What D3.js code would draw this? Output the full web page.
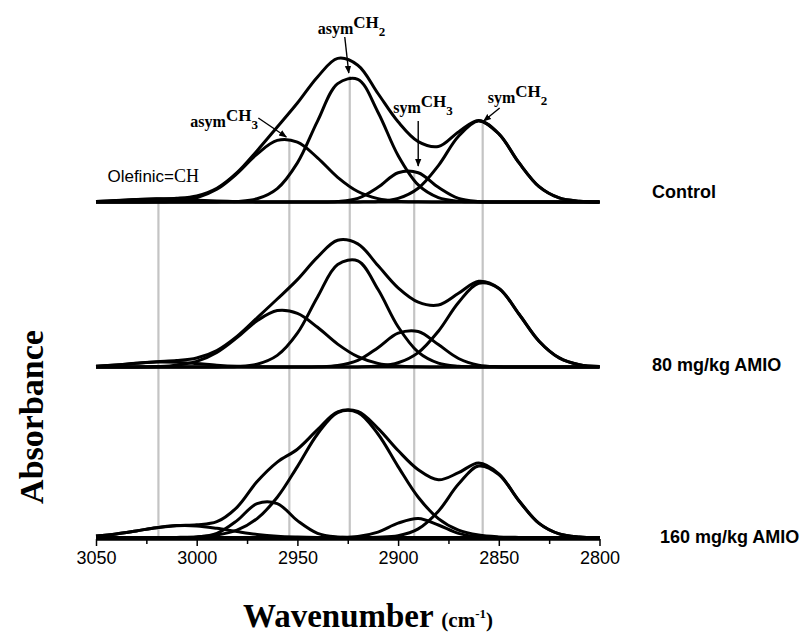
<!DOCTYPE html>
<html>
<head>
<meta charset="utf-8">
<title>CH stretching band fit</title>
<style>
  html, body { margin: 0; padding: 0; background: #fff; }
  svg { display: block; }
  .curve { fill: none; stroke: #000; stroke-width: 3; stroke-linejoin: round; }
  .band { stroke: #c4c4c4; stroke-width: 2.2; }
  .axis path, .axis line { stroke: #000; }
  .axis text { font-family: "Liberation Sans", Arial, sans-serif; font-size: 18px; fill: #000; }
  .group-label { font-family: "Liberation Sans", Arial, sans-serif; font-size: 18px; font-weight: bold; }
  .peak-label { font-family: "Liberation Serif", "Times New Roman", serif; font-weight: bold; }
  .title { font-family: "Liberation Serif", "Times New Roman", serif; font-weight: bold; }
</style>
</head>
<body>
<svg width="811" height="633"></svg>
<script src="https://cdnjs.cloudflare.com/ajax/libs/d3/7.8.5/d3.min.js"></script>
<script>
// wavenumber grid (cm-1) the curves were read at
const wavenumbers = [3050, 3040, 3030, 3020, 3010, 3000, 2990, 2980, 2970, 2960, 2950, 2940, 2930,
                     2920, 2910, 2900, 2890, 2880, 2870, 2860, 2850, 2840, 2830, 2820, 2810, 2800];

// Control
const controlTotal    = [0.006, 0.014, 0.024, 0.032, 0.038, 0.061, 0.137, 0.293, 0.513, 0.750, 0.990, 1.251, 1.436,
                         1.368, 1.085, 0.802, 0.604, 0.555, 0.701, 0.816, 0.682, 0.393, 0.154, 0.041, 0.008, 0.001];
const controlOlefinic = [0.006, 0.014, 0.024, 0.030, 0.027, 0.018, 0.009, 0.003, 0.001, 0, 0, 0, 0,
                         0, 0, 0, 0, 0, 0, 0, 0, 0, 0, 0, 0, 0];
const controlAsymCH3  = [0, 0, 0, 0.002, 0.011, 0.043, 0.127, 0.284, 0.480, 0.616, 0.599, 0.442, 0.247,
                         0.105, 0.034, 0.008, 0.002, 0, 0, 0, 0, 0, 0, 0, 0, 0];
const controlAsymCH2  = [0, 0, 0, 0, 0, 0, 0.001, 0.006, 0.032, 0.134, 0.391, 0.809, 1.184,
                         1.226, 0.898, 0.465, 0.171, 0.044, 0.008, 0.001, 0, 0, 0, 0, 0, 0];
const controlSymCH3   = [0, 0, 0, 0, 0, 0, 0, 0, 0, 0, 0, 0, 0.005,
                         0.036, 0.147, 0.293, 0.293, 0.147, 0.036, 0.005, 0, 0, 0, 0, 0, 0];
const controlSymCH2   = [0, 0, 0, 0, 0, 0, 0, 0, 0, 0, 0, 0, 0,
                         0.001, 0.006, 0.036, 0.138, 0.364, 0.657, 0.810, 0.682, 0.393, 0.154, 0.041, 0.008, 0.001];

// 80 mg/kg AMIO
const amio80Total    = [0.008, 0.021, 0.037, 0.053, 0.064, 0.090, 0.165, 0.306, 0.492, 0.680, 0.874, 1.099, 1.267,
                        1.231, 1.015, 0.792, 0.649, 0.620, 0.737, 0.857, 0.788, 0.530, 0.258, 0.091, 0.023, 0.004];
const amio80Olefinic = [0.008, 0.021, 0.037, 0.049, 0.047, 0.034, 0.018, 0.007, 0.002, 0, 0, 0, 0,
                        0, 0, 0, 0, 0, 0, 0, 0, 0, 0, 0, 0, 0];
const amio80AsymCH3  = [0, 0, 0, 0.004, 0.017, 0.056, 0.146, 0.294, 0.462, 0.564, 0.536, 0.397, 0.229,
                        0.103, 0.036, 0.010, 0.002, 0, 0, 0, 0, 0, 0, 0, 0, 0];
const amio80AsymCH2  = [0, 0, 0, 0, 0, 0, 0.001, 0.005, 0.028, 0.116, 0.338, 0.700, 1.024,
                        1.061, 0.777, 0.402, 0.148, 0.038, 0.007, 0.001, 0, 0, 0, 0, 0, 0];
const amio80SymCH3   = [0, 0, 0, 0, 0, 0, 0, 0, 0, 0, 0, 0.002, 0.014,
                        0.066, 0.193, 0.338, 0.355, 0.224, 0.085, 0.019, 0.003, 0, 0, 0, 0, 0];
const amio80SymCH2   = [0, 0, 0, 0, 0, 0, 0, 0, 0, 0, 0, 0, 0,
                        0.001, 0.009, 0.042, 0.144, 0.358, 0.645, 0.837, 0.785, 0.530, 0.258, 0.091, 0.023, 0.004];

// 160 mg/kg AMIO
const amio160Total    = [0.016, 0.036, 0.066, 0.098, 0.119, 0.127, 0.158, 0.302, 0.559, 0.754, 0.883, 1.078, 1.256,
                         1.260, 1.092, 0.870, 0.678, 0.577, 0.648, 0.745, 0.637, 0.368, 0.141, 0.036, 0.006, 0.001];
const amio160Olefinic = [0.016, 0.036, 0.066, 0.098, 0.118, 0.116, 0.092, 0.060, 0.031, 0.013, 0.005, 0.001, 0,
                         0, 0, 0, 0, 0, 0, 0, 0, 0, 0, 0, 0, 0];
const amio160AsymCH3  = [0, 0, 0, 0, 0, 0.005, 0.042, 0.169, 0.339, 0.339, 0.169, 0.042, 0.005,
                         0, 0, 0, 0, 0, 0, 0, 0, 0, 0, 0, 0, 0];
const amio160AsymCH2  = [0, 0, 0, 0, 0.001, 0.006, 0.024, 0.073, 0.189, 0.402, 0.709, 1.035, 1.250,
                         1.250, 1.035, 0.709, 0.402, 0.189, 0.073, 0.024, 0.006, 0.001, 0, 0, 0, 0];
const amio160SymCH3   = [0, 0, 0, 0, 0, 0, 0, 0, 0, 0, 0, 0, 0.001,
                         0.010, 0.054, 0.143, 0.190, 0.125, 0.041, 0.007, 0.001, 0, 0, 0, 0, 0];
const amio160SymCH2   = [0, 0, 0, 0, 0, 0, 0, 0, 0, 0, 0, 0, 0,
                         0, 0.003, 0.018, 0.086, 0.263, 0.534, 0.714, 0.630, 0.367, 0.141, 0.036, 0.006, 0.001];

const groupLabels = ["Control", "80 mg/kg AMIO", "160 mg/kg AMIO"];

// band assignments: position (cm-1) and the control peak height the guide line starts at
const bandNames     = ["Olefinic=CH", "asymCH3", "asymCH2", "symCH3", "symCH2"];
const bandPositions = [3019, 2954, 2924, 2892, 2858];
const bandTops      = [0.03, 0.63, 1.26, 0.31, 0.80];

const tickValues = [3050, 3000, 2950, 2900, 2850, 2800];
const minorTicks = [3025, 2975, 2925, 2875, 2825];

// ---- layout
const panelBase = [202, 367, 537.5];
const axisY = 539;
const labelPos = [[652, 198], [652, 371], [660, 543]];

const svg = d3.select("svg");

const x = d3.scaleLinear().domain([3050, 2800]).range([96, 599.5]);
const y = d3.scaleLinear().domain([0, 1.5]).range([0, -150]);

const line = d3.line()
    .x((d, i) => x(wavenumbers[i]))
    .y(d => y(d))
    .curve(d3.curveCatmullRom);

const panels = [
    [controlTotal, controlOlefinic, controlAsymCH3, controlAsymCH2, controlSymCH3, controlSymCH2],
    [amio80Total, amio80Olefinic, amio80AsymCH3, amio80AsymCH2, amio80SymCH3, amio80SymCH2],
    [amio160Total, amio160Olefinic, amio160AsymCH3, amio160AsymCH2, amio160SymCH3, amio160SymCH2]
];

// arrow head
svg.append("defs").append("marker")
    .attr("id", "arrow")
    .attr("viewBox", "0 0 10 10")
    .attr("refX", 9).attr("refY", 5)
    .attr("markerUnits", "userSpaceOnUse")
    .attr("markerWidth", 8).attr("markerHeight", 8)
    .attr("orient", "auto")
  .append("path")
    .attr("d", "M0,1 L10,5 L0,9 Z")
    .attr("fill", "#000");

// grey guide lines, behind the curves
svg.append("g").selectAll("line")
    .data(bandPositions)
    .join("line")
    .attr("class", "band")
    .attr("x1", d => x(d)).attr("x2", d => x(d))
    .attr("y1", (d, i) => panelBase[0] + y(bandTops[i]))
    .attr("y2", axisY);

// axis
const axisG = svg.append("g")
    .attr("class", "axis")
    .attr("transform", `translate(0,${axisY})`);
axisG.call(d3.axisBottom(x).tickValues(tickValues).tickFormat(d3.format("d"))
    .tickSize(7).tickPadding(5).tickSizeOuter(0));
axisG.select(".domain").attr("stroke-width", 2.5);
axisG.selectAll(".tick line").attr("stroke-width", 1.5);

const minorG = svg.append("g")
    .attr("class", "axis")
    .attr("transform", `translate(0,${axisY})`);
minorG.call(d3.axisBottom(x).tickValues(minorTicks).tickFormat("").tickSize(5).tickSizeOuter(0));
minorG.select(".domain").remove();
minorG.selectAll(".tick line").attr("stroke-width", 1.5);

// curves
panels.forEach((series, p) => {
    const g = svg.append("g").attr("transform", `translate(0,${panelBase[p]})`);
    g.selectAll("path")
        .data(series)
        .join("path")
        .attr("class", "curve")
        .attr("d", line);

    svg.append("text")
        .attr("class", "group-label")
        .attr("x", labelPos[p][0])
        .attr("y", labelPos[p][1])
        .text(groupLabels[p]);
});

// peak annotations (offsets from the control peak each one points at)
const peakX = i => x(bandPositions[i]);
const peakY = i => panelBase[0] + y(bandTops[i]);

function peakLabel(i, tx, ty, prefix, digit) {
    const t = svg.append("text")
        .attr("class", "peak-label")
        .attr("x", peakX(i) + tx)
        .attr("y", peakY(i) + ty);
    t.append("tspan").attr("font-size", 16).text(prefix);
    t.append("tspan").attr("font-size", 17).attr("dy", -6).text("CH");
    t.append("tspan").attr("font-size", 13).attr("dy", 8).text(digit);
}

function arrow(i, sx, sy, ex, ey) {
    svg.append("line")
        .attr("x1", peakX(i) + sx).attr("y1", peakY(i) + sy)
        .attr("x2", peakX(i) + ex).attr("y2", peakY(i) + ey)
        .attr("stroke", "#000").attr("stroke-width", 1.4)
        .attr("marker-end", "url(#arrow)");
}

peakLabel(1, -99, -12, "asym", "3");
arrow(1, -31, -21, -3, -2);

peakLabel(2, -32, -42, "asym", "2");
arrow(2, -5, -39, -1, -3);

peakLabel(3, -21, -58, "sym", "3");
arrow(3, 4, -50, 4, -5);

peakLabel(4, 5, -19, "sym", "2");
arrow(4, 17, -14, 1, -1);

// olefinic label: sans text + serif CH
const ole = svg.append("text")
    .attr("x", peakX(0) - 51)
    .attr("y", peakY(0) - 17);
ole.append("tspan")
    .attr("font-family", '"Liberation Sans", Arial, sans-serif')
    .attr("font-size", 17)
    .text("Olefinic=");
ole.append("tspan")
    .style("font-family", '"Liberation Serif", "Times New Roman", serif')
    .style("font-weight", "normal")
    .attr("font-size", 18)
    .text("CH");

// axis titles
svg.append("text")
    .attr("class", "title")
    .attr("font-size", 34)
    .attr("text-anchor", "middle")
    .attr("transform", "translate(43,417) rotate(-90)")
    .text("Absorbance");

const xt = svg.append("text")
    .attr("class", "title")
    .attr("x", 243)
    .attr("y", 627);
xt.append("tspan").attr("font-size", 33).text("Wavenumber ");
xt.append("tspan").attr("font-size", 21).text("(cm");
xt.append("tspan").attr("font-size", 13).attr("dy", -9).text("-1");
xt.append("tspan").attr("font-size", 21).attr("dy", 9).text(")");
</script>
</body>
</html>
